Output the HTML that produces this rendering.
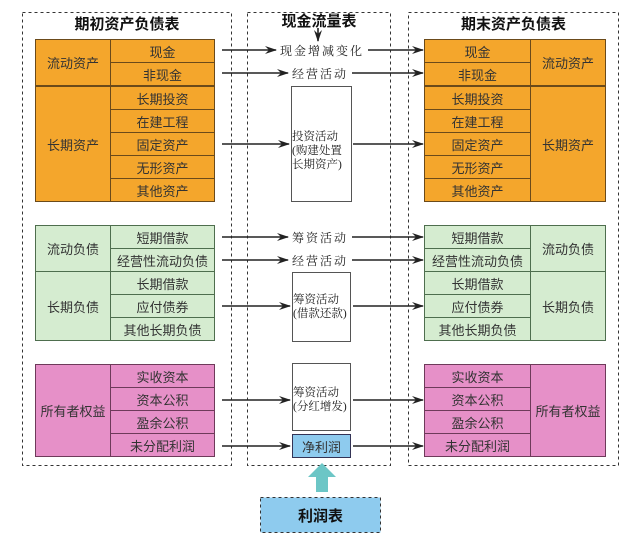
<!DOCTYPE html>
<html><head><meta charset="utf-8"><style>
body{margin:0;width:640px;height:550px;background:#fff;position:relative;overflow:hidden;font-family:"Liberation Sans","Noto Sans CJK SC",sans-serif;}
.a{position:absolute;box-sizing:border-box;display:flex;align-items:center;justify-content:center;font-size:13px;color:#333;white-space:nowrap;}
.o{background:#f4a62c;border:1px solid #6b4a1a;}
.g{background:#d5ecd0;border:1px solid #4e6e4e;}
.p{background:#e690c8;border:1px solid #6e3a5a;}
.t{font-weight:bold;font-size:15px;color:#111;}
.s{font-family:"Liberation Serif","Noto Serif CJK SC",serif;font-size:12px;color:#222;letter-spacing:2px;}
.bx{background:#fff;border:1px solid #555;}
.m{position:absolute;font-family:"Liberation Serif","Noto Serif CJK SC",serif;font-size:11.5px;color:#222;line-height:14px;white-space:nowrap;letter-spacing:0;}
</style></head><body>
<svg width="640" height="550" style="position:absolute;left:0;top:0">
<defs><marker id="m" markerWidth="12" markerHeight="8" refX="11" refY="4" orient="auto" markerUnits="userSpaceOnUse"><path d="M0,0 L12,4 L0,8 L4,4z" fill="#222"/></marker></defs>
<g fill="none" stroke="#333" stroke-dasharray="3,3" stroke-width="1">
<rect x="22.5" y="12.5" width="209" height="453"/>
<rect x="247.5" y="12.5" width="143" height="453"/>
<rect x="408.5" y="12.5" width="210" height="453"/>
</g>
<g stroke="#222" stroke-width="1.6" marker-end="url(#m)">
<line x1="318" y1="28" x2="318" y2="41"/>
<line x1="222" y1="50" x2="276" y2="50"/><line x1="368" y1="50" x2="423" y2="50"/>
<line x1="222" y1="73" x2="288" y2="73"/><line x1="352" y1="73" x2="423" y2="73"/>
<line x1="222" y1="144" x2="289" y2="144"/><line x1="353" y1="144" x2="423" y2="144"/>
<line x1="222" y1="237" x2="288" y2="237"/><line x1="352" y1="237" x2="423" y2="237"/>
<line x1="222" y1="260" x2="288" y2="260"/><line x1="352" y1="260" x2="423" y2="260"/>
<line x1="222" y1="306" x2="290" y2="306"/><line x1="353" y1="306" x2="423" y2="306"/>
<line x1="222" y1="400" x2="290" y2="400"/><line x1="353" y1="400" x2="423" y2="400"/>
<line x1="222" y1="446" x2="290" y2="446"/><line x1="353" y1="446" x2="423" y2="446"/>
</g>
<path d="M322,463 L336,477 L328,477 L328,492 L316,492 L316,477 L308,477z" fill="#6cc6c6"/>
<rect x="260.5" y="497.5" width="120" height="35" fill="#8ecbee" stroke="#333" stroke-dasharray="3,3"/>
</svg>
<div class="a t" style="left:22px;top:12px;width:210px;height:22px">期初资产负债表</div>
<div class="a t" style="left:247px;top:10px;width:144px;height:20px">现金流量表</div>
<div class="a t" style="left:408px;top:12px;width:211px;height:22px">期末资产负债表</div>

<div class="a o" style="left:35px;top:39px;width:76px;height:47px">流动资产</div>
<div class="a o" style="left:35px;top:86px;width:76px;height:116px">长期资产</div>
<div class="a o" style="left:110px;top:39px;width:105px;height:24px">现金</div>
<div class="a o" style="left:110px;top:62px;width:105px;height:24px">非现金</div>
<div class="a o" style="left:110px;top:86px;width:105px;height:24px">长期投资</div>
<div class="a o" style="left:110px;top:109px;width:105px;height:24px">在建工程</div>
<div class="a o" style="left:110px;top:132px;width:105px;height:24px">固定资产</div>
<div class="a o" style="left:110px;top:155px;width:105px;height:24px">无形资产</div>
<div class="a o" style="left:110px;top:178px;width:105px;height:24px">其他资产</div>
<div class="a g" style="left:35px;top:225px;width:76px;height:47px">流动负债</div>
<div class="a g" style="left:35px;top:271px;width:76px;height:70px">长期负债</div>
<div class="a g" style="left:110px;top:225px;width:105px;height:24px">短期借款</div>
<div class="a g" style="left:110px;top:248px;width:105px;height:24px">经营性流动负债</div>
<div class="a g" style="left:110px;top:271px;width:105px;height:24px">长期借款</div>
<div class="a g" style="left:110px;top:294px;width:105px;height:24px">应付债券</div>
<div class="a g" style="left:110px;top:317px;width:105px;height:24px">其他长期负债</div>
<div class="a p" style="left:35px;top:364px;width:76px;height:93px">所有者权益</div>
<div class="a p" style="left:110px;top:364px;width:105px;height:24px">实收资本</div>
<div class="a p" style="left:110px;top:387px;width:105px;height:24px">资本公积</div>
<div class="a p" style="left:110px;top:410px;width:105px;height:24px">盈余公积</div>
<div class="a p" style="left:110px;top:433px;width:105px;height:24px">未分配利润</div>

<div class="a o" style="left:424px;top:39px;width:107px;height:24px">现金</div>
<div class="a o" style="left:424px;top:62px;width:107px;height:24px">非现金</div>
<div class="a o" style="left:424px;top:86px;width:107px;height:24px">长期投资</div>
<div class="a o" style="left:424px;top:109px;width:107px;height:24px">在建工程</div>
<div class="a o" style="left:424px;top:132px;width:107px;height:24px">固定资产</div>
<div class="a o" style="left:424px;top:155px;width:107px;height:24px">无形资产</div>
<div class="a o" style="left:424px;top:178px;width:107px;height:24px">其他资产</div>
<div class="a o" style="left:530px;top:39px;width:76px;height:47px">流动资产</div>
<div class="a o" style="left:530px;top:86px;width:76px;height:116px">长期资产</div>
<div class="a g" style="left:424px;top:225px;width:107px;height:24px">短期借款</div>
<div class="a g" style="left:424px;top:248px;width:107px;height:24px">经营性流动负债</div>
<div class="a g" style="left:424px;top:271px;width:107px;height:24px">长期借款</div>
<div class="a g" style="left:424px;top:294px;width:107px;height:24px">应付债券</div>
<div class="a g" style="left:424px;top:317px;width:107px;height:24px">其他长期负债</div>
<div class="a g" style="left:530px;top:225px;width:76px;height:47px">流动负债</div>
<div class="a g" style="left:530px;top:271px;width:76px;height:70px">长期负债</div>
<div class="a p" style="left:424px;top:364px;width:107px;height:24px">实收资本</div>
<div class="a p" style="left:424px;top:387px;width:107px;height:24px">资本公积</div>
<div class="a p" style="left:424px;top:410px;width:107px;height:24px">盈余公积</div>
<div class="a p" style="left:424px;top:433px;width:107px;height:24px">未分配利润</div>
<div class="a p" style="left:530px;top:364px;width:76px;height:93px">所有者权益</div>

<div class="a s" style="left:272px;top:41px;width:100px;height:18px">现金增减变化</div>
<div class="a s" style="left:285px;top:64px;width:70px;height:18px">经营活动</div>
<div class="a s" style="left:285px;top:228px;width:70px;height:18px">筹资活动</div>
<div class="a s" style="left:285px;top:251px;width:70px;height:18px">经营活动</div>
<div class="a bx" style="left:291px;top:86px;width:61px;height:116px"></div>
<div class="m" style="left:292px;top:130px">投资活动<br>(购建处置<br>长期资产)</div>
<div class="a bx" style="left:292px;top:272px;width:59px;height:70px"></div>
<div class="m" style="left:293px;top:293px">筹资活动<br>(借款还款)</div>
<div class="a bx" style="left:292px;top:363px;width:59px;height:68px"></div>
<div class="m" style="left:293px;top:386px">筹资活动<br>(分红增发)</div>
<div class="a" style="left:292px;top:434px;width:59px;height:24px;background:#8ecbee;border:1px solid #335;">净利润</div>
<div class="a t" style="left:260px;top:497px;width:121px;height:36px">利润表</div>
</body></html>
